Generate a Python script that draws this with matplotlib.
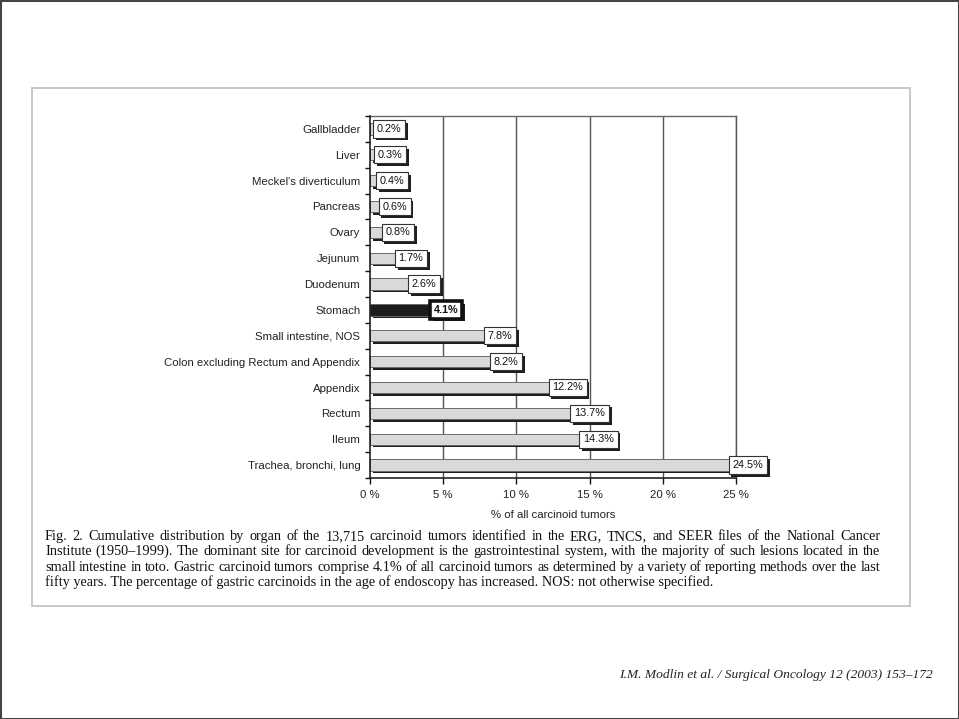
import matplotlib
matplotlib.use("Agg")
import matplotlib.pyplot as plt
import matplotlib.patheffects as pe
from matplotlib.patches import Rectangle
import numpy as np

# Carcinoid tumour distribution by organ (% of all carcinoid tumours)
organs = [
    "Gallbladder", "Liver", "Meckel's diverticulum", "Pancreas", "Ovary",
    "Jejunum", "Duodenum", "Stomach", "Small intestine, NOS",
    "Colon excluding Rectum and Appendix", "Appendix", "Rectum", "Ileum",
    "Trachea, bronchi, lung",
]
percent = [0.2, 0.3, 0.4, 0.6, 0.8, 1.7, 2.6, 4.1, 7.8, 8.2, 12.2, 13.7, 14.3, 24.5]
highlight = "Stomach"
x_ticks = [0, 5, 10, 15, 20, 25]
x_tick_labels = ["0 %", "5 %", "10 %", "15 %", "20 %", "25 %"]
x_label = "% of all carcinoid tumors"

caption_lines = [
    "Fig. 2. Cumulative distribution by organ of the 13,715 carcinoid tumors identified in the ERG, TNCS, and SEER files of the National Cancer",
    "Institute (1950\u20131999). The dominant site for carcinoid development is the gastrointestinal system, with the majority of such lesions located in the",
    "small intestine in toto. Gastric carcinoid tumors comprise 4.1% of all carcinoid tumors as determined by a variety of reporting methods over the last",
    "fifty years. The percentage of gastric carcinoids in the age of endoscopy has increased. NOS: not otherwise specified.",
]
footer = "I.M. Modlin et al. / Surgical Oncology 12 (2003) 153\u2013172"

W, H = 959, 719
fig = plt.figure(figsize=(W / 100, H / 100), dpi=100)
fig.patch.set_facecolor("white")

def fx(px):
    return px / W

def fy(py):
    return 1 - py / H

sans = ["Liberation Sans", "DejaVu Sans"]
serif = ["Liberation Serif", "DejaVu Serif"]

# page frame and figure panel frame
fig.add_artist(Rectangle((0, 0), 1, 1, transform=fig.transFigure, fill=False,
                         edgecolor="#444444", linewidth=2.2))
fig.add_artist(Rectangle((fx(32), fy(606)), fx(910) - fx(32), fy(88) - fy(606),
                         transform=fig.transFigure, fill=False,
                         edgecolor="#c4c4c4", linewidth=1.3))

ax = fig.add_axes([fx(370), fy(478), fx(736) - fx(370), fy(116) - fy(478)])
n = len(organs)
y = np.arange(n)
ax.set_xlim(0, 25)
ax.set_ylim(n - 0.5, -0.5)

for xv in x_ticks[1:]:
    ax.axvline(xv, color="#555555", linewidth=1.0, zorder=1)

shadow = [pe.SimplePatchShadow(offset=(1.8, -1.8), shadow_rgbFace="#1e1e1e", alpha=1.0),
          pe.Normal()]
bar_colors = ["#1c1c1c" if o == highlight else "#d9d9d9" for o in organs]
bars = ax.barh(y, percent, height=0.44, color=bar_colors, edgecolor="#6a6a6a",
               linewidth=0.7, zorder=3)
for b in bars:
    b.set_path_effects(shadow)

fs = 7.8
for yi, v, o in zip(y, percent, organs):
    hl = o == highlight
    t = ax.annotate(f"{v:.1f}%", xy=(v, yi), xytext=(2.6, 0), textcoords="offset points",
                    ha="left", va="center", fontsize=fs, family=sans,
                    fontweight="bold" if hl else "normal", color="#111111", zorder=6,
                    annotation_clip=False,
                    bbox=dict(boxstyle="square,pad=0.34", facecolor="white",
                              edgecolor="#111111" if hl else "#333333",
                              linewidth=2.6 if hl else 0.8))
    t.get_bbox_patch().set_path_effects(
        [pe.SimplePatchShadow(offset=(2.0, -2.0), shadow_rgbFace="#1e1e1e", alpha=1.0),
         pe.Normal()])

# axes frame
for side in ("left", "bottom"):
    ax.spines[side].set_color("#111111")
    ax.spines[side].set_linewidth(1.1)
ax.spines["top"].set_color("#666666")
ax.spines["top"].set_linewidth(1.0)
ax.spines["right"].set_color("#555555")
ax.spines["right"].set_linewidth(1.0)
ax.spines["left"].set_zorder(5)

ax.set_xticks(x_ticks)
ax.set_xticklabels(x_tick_labels, family=sans, fontsize=8.2, color="#222222")
ax.tick_params(axis="x", direction="out", length=4, width=1.0, color="#111111", pad=5)

ax.set_yticks(y)
ax.set_yticklabels(organs, family=sans, fontsize=8.2, color="#222222")
ax.tick_params(axis="y", which="major", length=0, pad=7)
ax.set_yticks(np.arange(-0.5, n, 1.0), minor=True)
ax.tick_params(axis="y", which="minor", direction="out", length=3.5, width=1.0, color="#111111")

ax.set_xlabel(x_label, family=sans, fontsize=8.2, color="#222222", labelpad=7)

# justified caption
renderer = fig.canvas.get_renderer()
cap_left, cap_right = 45, 880
cap_fs = 10.3
baselines = [540, 555.3, 570.6, 586]

def text_width(s):
    t = fig.text(0, 0, s, family=serif, fontsize=cap_fs)
    w = t.get_window_extent(renderer).width
    t.remove()
    return w

for i, (line, yy) in enumerate(zip(caption_lines, baselines)):
    if i == len(caption_lines) - 1:
        fig.text(fx(cap_left), fy(yy), line, family=serif, fontsize=cap_fs,
                 ha="left", va="baseline", color="#111111")
        continue
    words = line.split(" ")
    widths = [text_width(w) for w in words]
    gap = (cap_right - cap_left - sum(widths)) / (len(words) - 1)
    xpos = cap_left
    for w, wd in zip(words, widths):
        fig.text(fx(xpos), fy(yy), w, family=serif, fontsize=cap_fs,
                 ha="left", va="baseline", color="#111111")
        xpos += wd + gap

fig.text(fx(933), fy(675), footer, family=serif, style="italic", fontsize=9.7,
         ha="right", va="center", color="#222222")

fig.savefig("out.png", dpi=100, facecolor="white")
